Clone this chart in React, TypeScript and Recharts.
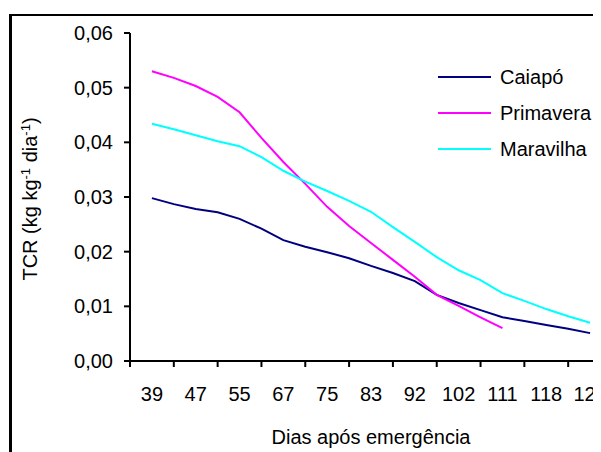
import React from 'react'
import { LineChart, Line, XAxis, YAxis, Legend } from 'recharts'

// days after emergence (labelled categories)
const days = ['39', '47', '55', '67', '75', '83', '92', '102', '111', '118', '125']

// TCR read every half step between labelled days
const caiapo = [0.0298, 0.0287, 0.0278, 0.0272, 0.0260, 0.0242, 0.0221, 0.0209, 0.0199, 0.0188, 0.0174,
  0.0161, 0.0146, 0.0121, 0.0106, 0.0093, 0.0080, 0.0073, 0.0066, 0.0059, 0.0051]
const primavera = [0.0530, 0.0518, 0.0503, 0.0483, 0.0455, 0.0408, 0.0364, 0.0324, 0.0282, 0.0247, 0.0216,
  0.0185, 0.0154, 0.0121, 0.0101, 0.0080, 0.0060, null, null, null, null]
const maravilha = [0.0434, 0.0424, 0.0413, 0.0402, 0.0393, 0.0373, 0.0348, 0.0328, 0.0311, 0.0293, 0.0273,
  0.0245, 0.0218, 0.0190, 0.0166, 0.0148, 0.0124, 0.0110, 0.0095, 0.0082, 0.0070]

const yTicks = [0, 0.01, 0.02, 0.03, 0.04, 0.05, 0.06]

const series = [
  { key: 'caiapo', name: 'Caiapó', color: '#000080' },
  { key: 'primavera', name: 'Primavera', color: '#FF00FF' },
  { key: 'maravilha', name: 'Maravilha', color: '#00FFFF' },
]

const data = caiapo.map((v, i) => ({
  pos: i / 2,
  caiapo: v,
  primavera: primavera[i],
  maravilha: maravilha[i],
}))

// ticks: integers carry the day label, half steps carry the tick mark
const xTicks: number[] = []
for (let i = -1; i <= days.length * 2 - 1; i++) xTicks.push(i / 2)

const FONT = '"Liberation Sans", Arial, sans-serif'

function XTick(props: any) {
  const { x, y, payload } = props
  const v = payload.value
  if (Number.isInteger(v)) {
    return (
      <text x={x} y={y + 40} textAnchor="middle" fontSize={20} fill="#000">
        {days[v]}
      </text>
    )
  }
  return <line x1={x} y1={y} x2={x} y2={y + 6} stroke="#000" strokeWidth={2} />
}

function YTitle(props: any) {
  const { viewBox } = props
  const cx = viewBox.x - 33
  const cy = viewBox.y + viewBox.height / 2 + 2
  return (
    <text x={cx} y={cy} transform={`rotate(-90 ${cx} ${cy})`} textAnchor="middle" fontSize={20} fill="#000">
      TCR (kg kg<tspan dy={-7} fontSize={13}>-1</tspan>
      <tspan dy={7}> dia</tspan>
      <tspan dy={-7} fontSize={13}>-1</tspan>
      <tspan dy={7}>)</tspan>
    </text>
  )
}

function XTitle(props: any) {
  const { viewBox } = props
  return (
    <text x={viewBox.x + viewBox.width / 2} y={viewBox.y + 83} textAnchor="middle" fontSize={20} fill="#000">
      Dias após emergência
    </text>
  )
}

function LegendBox() {
  return (
    <div style={{ fontFamily: FONT, fontSize: 20, color: '#000' }}>
      {series.map((s) => (
        <div key={s.key} style={{ height: 36, display: 'flex', alignItems: 'center' }}>
          <svg width={56} height={4} style={{ marginRight: 6 }}>
            <line x1={0} y1={2} x2={53} y2={2} stroke={s.color} strokeWidth={2} />
          </svg>
          <span>{s.name}</span>
        </div>
      ))}
    </div>
  )
}

export default function App() {
  return (
    <div style={{ position: 'relative', width: 593, height: 444, overflow: 'hidden', fontFamily: FONT }}>
      <div
        style={{
          position: 'absolute',
          left: 1,
          top: 6,
          width: 700,
          height: 600,
          borderLeft: '3px solid #000',
          borderTop: '2px solid #000',
        }}
      />
      <LineChart
        width={640}
        height={444}
        data={data}
        margin={{ top: 25, right: 36, bottom: 61, left: 62 }}
        style={{ position: 'absolute', left: 0, top: 0, fontFamily: FONT }}
      >
        <XAxis
          dataKey="pos"
          type="number"
          domain={[-0.5, 10.5]}
          ticks={xTicks}
          interval={0}
          tick={<XTick />}
          tickLine={false}
          tickSize={0}
          tickMargin={0}
          height={30}
          axisLine={{ stroke: '#000', strokeWidth: 2 }}
          label={<XTitle />}
        />
        <YAxis
          type="number"
          domain={[0, 0.06]}
          ticks={yTicks}
          width={60}
          tickSize={6}
          tickMargin={11}
          tickFormatter={(v: number) => v.toFixed(2).replace('.', ',')}
          tick={{ fontSize: 20, fill: '#000' }}
          tickLine={{ stroke: '#000', strokeWidth: 2 }}
          axisLine={{ stroke: '#000', strokeWidth: 2 }}
          label={<YTitle />}
        />
        <Legend
          layout="horizontal"
          verticalAlign="middle"
          align="center"
          content={<LegendBox />}
          wrapperStyle={{ left: 430, top: 51, width: 160 }}
        />
        {series.map((s) => (
          <Line
            key={s.key}
            type="linear"
            dataKey={s.key}
            name={s.name}
            stroke={s.color}
            strokeWidth={2}
            dot={false}
            isAnimationActive={false}
          />
        ))}
      </LineChart>
    </div>
  )
}
